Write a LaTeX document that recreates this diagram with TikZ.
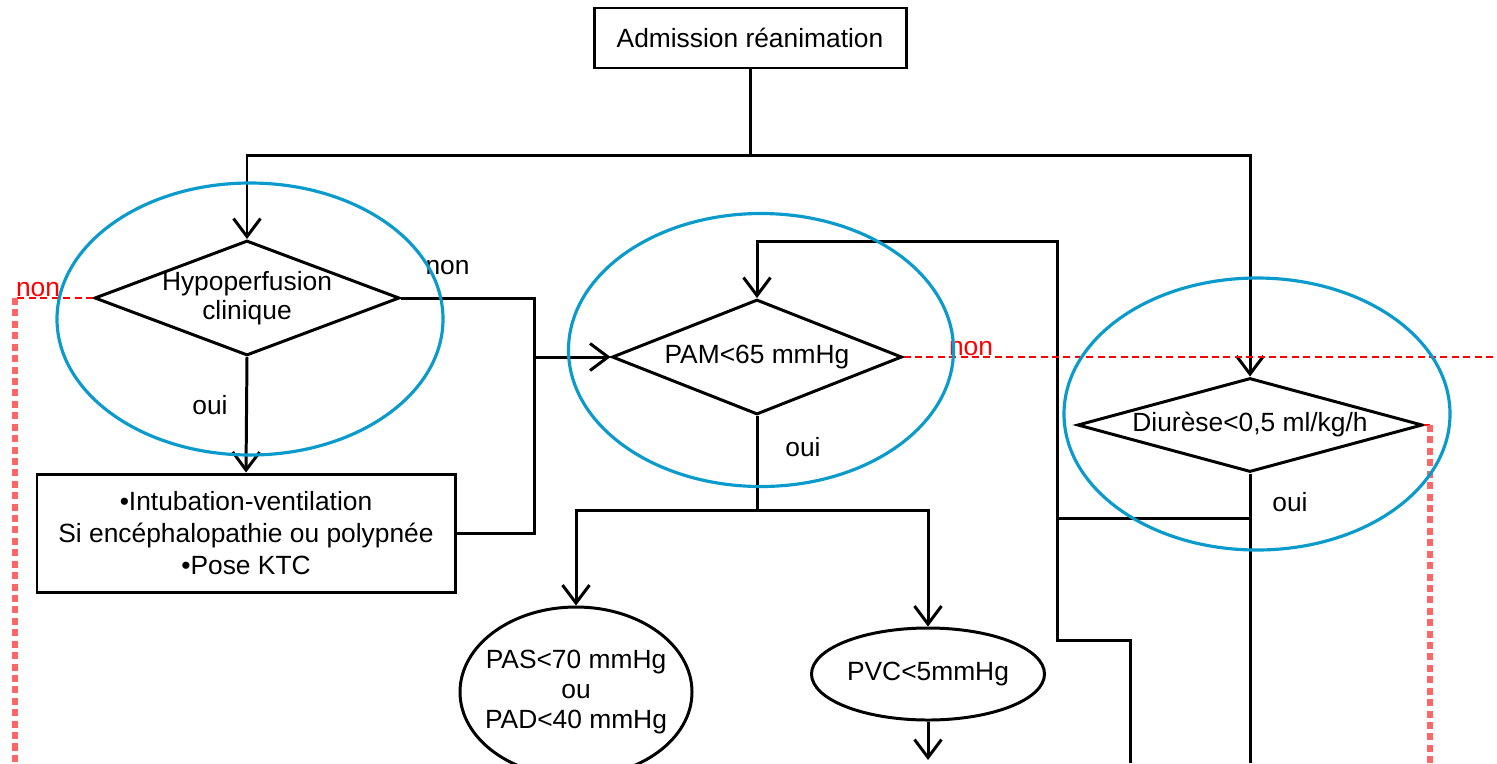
\documentclass[tikz,border=0pt]{standalone}
\usepackage{fontspec}
\setmainfont{Liberation Sans}
\usetikzlibrary{shapes.geometric,arrows.meta}
\definecolor{zonecol}{RGB}{10,154,204}
\begin{document}
\begin{tikzpicture}[
    line width=1.7pt,
    every node/.style={font=\fontsize{15}{16.8}\selectfont},
    box/.style={draw,rectangle,inner sep=0pt,align=center},
    decision/.style={draw,diamond,inner sep=-2cm,align=center},
    outcome/.style={draw,ellipse,inner sep=-2cm,align=center},
    zone/.style={draw=zonecol,line width=1.8pt},
    arr/.style={-{Straight Barb[length=3.6mm,width=5.4mm]}},
    nondash/.style={red,line width=1.3pt,dash pattern=on 4pt off 2.5pt},
    nondot/.style={red!60,line width=3.2pt,dash pattern=on 4pt off 2.5pt},
    lbl/.style={inner sep=1pt}]
    \useasboundingbox (0,0) rectangle (29.94,-15.26);
    \node[box,minimum width=6.24cm,minimum height=1.2cm] (adm) at (15.0,-0.76) {Admission réanimation};
    \node[decision,minimum width=6.1cm,minimum height=2.3cm] (hypo) at (4.94,-5.96) {Hypoperfusion\\clinique};
    \node[decision,minimum width=5.8cm,minimum height=2.3cm] (pam) at (15.14,-7.14) {PAM<65 mmHg};
    \node[decision,minimum width=6.9cm,minimum height=1.88cm] (diu) at (25.0,-8.5) {Diurèse<0,5 ml/kg/h};
    \node[box,minimum width=8.36cm,minimum height=2.36cm,font=\fontsize{15}{18.4}\selectfont] (gestes) at (4.92,-10.66)
      {•Intubation-ventilation\\Si encéphalopathie ou polypnée\\•Pose KTC};
    \node[outcome,minimum width=4.64cm,minimum height=3.4cm] (pas) at (11.52,-13.84) {PAS<70 mmHg\\ou\\PAD<40 mmHg};
    \node[outcome,minimum width=4.66cm,minimum height=1.84cm] (pvc) at (18.56,-13.48) {PVC<5mmHg};
    \coordinate (split) at (15.0,-3.1);
    \coordinate (join) at (10.68,-7.14);
    \coordinate (pamSplit) at (15.14,-10.2);
    \coordinate (diuJoin) at (25.0,-10.36);
    \coordinate (loop) at (21.14,-10.36);
    \coordinate (loopTop) at (21.14,-4.82);
    \coordinate (bend) at (21.14,-12.8);
    \coordinate (exitB) at (22.6,-15.26);
    \coordinate (diuEnd) at (25.0,-15.26);
    \coordinate (pvcEnd) at (18.56,-15.2);
    \coordinate (hypoOut) at (0.3,-5.96);
    \coordinate (hypoEnd) at (0.3,-15.26);
    \coordinate (pamOut) at (29.94,-7.14);
    \coordinate (diuOut) at (28.6,-8.5);
    \coordinate (diuOutEnd) at (28.6,-15.26);
    \node[lbl] (nonHypo) at (8.95,-5.36) {non};
    \node[lbl] (ouiHypo) at (4.2,-8.1) {oui};
    \node[lbl] (ouiPam) at (16.06,-8.94) {oui};
    \node[lbl] (ouiDiu) at (25.8,-10.04) {oui};
    \node[lbl,text=red] (nonHypoL) at (0.76,-5.8) {non};
    \node[lbl,text=red] (nonPam) at (19.42,-6.98) {non};
    \draw (adm.south) -- (split);
    \draw (hypo.east) -| (join);
    \draw (gestes.east) -| (join);
    \draw (pam.south) -- (pamSplit);
    \draw (diu.south) -- (diuEnd);
    \draw (diuJoin) -- (loop);
    \draw (loop) -- (bend) -| (exitB);
    \begin{scope}[arr]
      \draw (split) -| (hypo.north);
      \draw (split) -| (diu.north);
      \draw (hypo.south) -- (gestes.north);
      \draw (join) -- (pam.west);
      \draw (pamSplit) -| (pas.north);
      \draw (pamSplit) -| (pvc.north);
      \draw (loop) -- (loopTop) -| (pam.north);
      \draw (pvc.south) -- (pvcEnd);
    \end{scope}
    \draw[nondash] (hypo.west) -- (hypoOut);
    \draw[nondot] (hypoOut) -- (hypoEnd);
    \draw[nondash] (pam.east) -- (pamOut);
    \draw[nondash] (diu.east) -- (diuOut);
    \draw[nondot] (diuOut) -- (diuOutEnd);
    \draw[zone] (5.0,-6.38) ellipse (3.86 and 2.72);
    \draw[zone] (15.22,-7.0) ellipse (3.85 and 2.73);
    \draw[zone] (25.14,-8.28) ellipse (3.86 and 2.72);
  \end{tikzpicture}
\end{document}
